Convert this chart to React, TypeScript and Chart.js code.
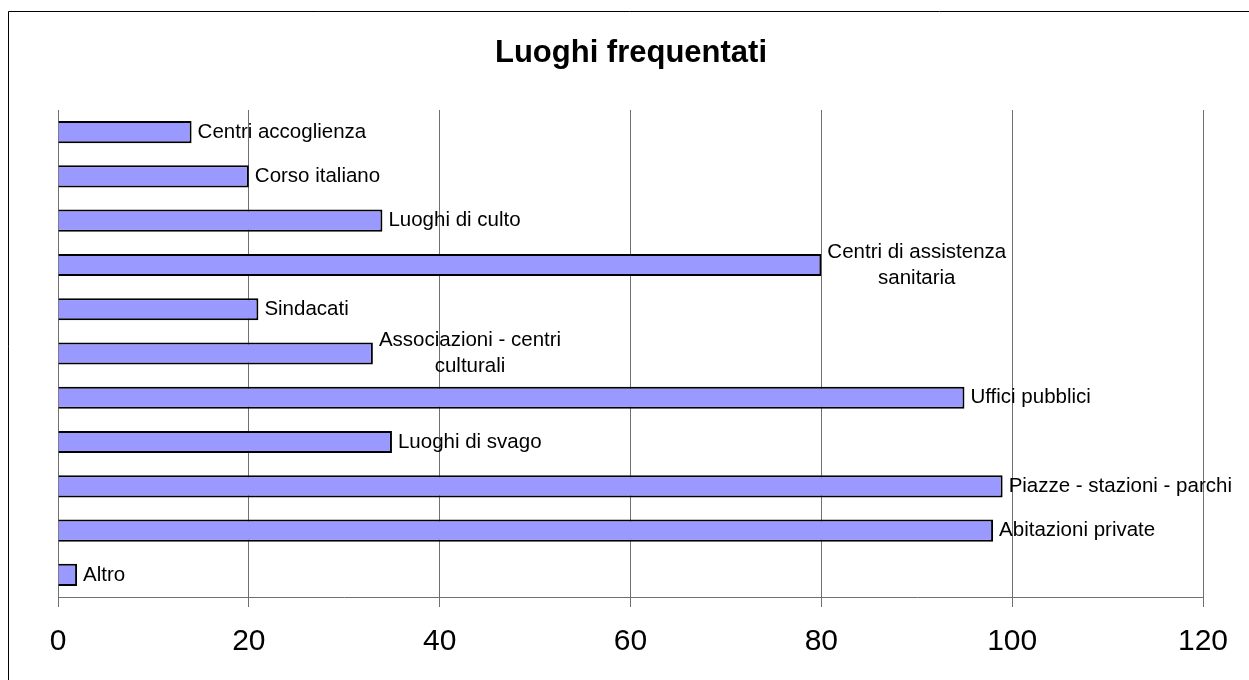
import React, { useEffect, useRef } from "react";
import { Chart, registerables } from "chart.js";

Chart.register(...registerables);

const TITLE = "Luoghi frequentati";
const categories: string[][] = [
  ["Centri accoglienza"],
  ["Corso italiano"],
  ["Luoghi di culto"],
  ["Centri di assistenza", "sanitaria"],
  ["Sindacati"],
  ["Associazioni - centri", "culturali"],
  ["Uffici pubblici"],
  ["Luoghi di svago"],
  ["Piazze - stazioni - parchi"],
  ["Abitazioni private"],
  ["Altro"],
];
const values: number[] = [14, 20, 34, 80, 21, 33, 95, 35, 99, 98, 2];
const xTicks: number[] = [0, 20, 40, 60, 80, 100, 120];

const FONT = "'Liberation Sans', Arial, sans-serif";

const framePlugin = {
  id: "frame",
  beforeDraw(chart: any) {
    const ctx = chart.ctx;
    ctx.save();
    ctx.fillStyle = "#ffffff";
    ctx.fillRect(0, 0, chart.width, chart.height);
    ctx.strokeStyle = "#000000";
    ctx.lineWidth = 1;
    ctx.beginPath();
    ctx.moveTo(8.5, chart.height + 5);
    ctx.lineTo(8.5, 11.5);
    ctx.lineTo(chart.width + 5, 11.5);
    ctx.stroke();
    ctx.fillStyle = "#000000";
    ctx.font = `bold 31px ${FONT}`;
    ctx.textAlign = "center";
    ctx.textBaseline = "middle";
    ctx.fillText(TITLE, 631, 53);
    ctx.restore();
  },
};

const labelPlugin = {
  id: "barLabels",
  afterDatasetsDraw(chart: any) {
    const ctx = chart.ctx;
    const meta = chart.getDatasetMeta(0);
    ctx.save();
    ctx.fillStyle = "#000000";
    ctx.font = `20.5px ${FONT}`;
    ctx.textBaseline = "middle";
    meta.data.forEach((bar: any, i: number) => {
      const lines = categories[i];
      const x0 = bar.x + 6;
      const lh = 26;
      if (lines.length === 1) {
        ctx.textAlign = "left";
        ctx.fillText(lines[0], x0, bar.y);
      } else {
        const widths = lines.map((l) => ctx.measureText(l).width);
        const maxW = Math.max(...widths);
        const cx = x0 + maxW / 2;
        ctx.textAlign = "center";
        const startY = bar.y - ((lines.length - 1) * lh) / 2;
        lines.forEach((l, j) => ctx.fillText(l, cx, startY + j * lh));
      }
    });
    ctx.restore();
  },
};

export default function App() {
  const ref = useRef<HTMLCanvasElement>(null);
  useEffect(() => {
    if (!ref.current) return;
    const chart = new Chart(ref.current, {
      type: "bar",
      data: {
        labels: categories.map((c) => c.join(" ")),
        datasets: [
          {
            data: values,
            backgroundColor: "#9999FF",
            borderColor: "#000000",
            borderWidth: 2,
            barPercentage: 0.5,
            categoryPercentage: 1,
          },
        ],
      },
      options: {
        indexAxis: "y",
        animation: false,
        responsive: false,
        maintainAspectRatio: false,
        layout: { padding: { left: 58, right: 46, top: 110, bottom: 3 } },
        plugins: {
          legend: { display: false },
          title: { display: false },
          tooltip: { enabled: false },
        },
        scales: {
          x: {
            min: 0,
            max: 120,
            afterBuildTicks: (axis: any) => {
              axis.ticks = xTicks.map((v) => ({ value: v }));
            },
            grid: {
              color: "#707070",
              lineWidth: 1,
              tickLength: 10,
              drawOnChartArea: true,
            },
            border: { display: true, color: "#707070", width: 1 },
            ticks: {
              color: "#000000",
              font: { family: FONT, size: 30 },
              padding: 17,
              maxRotation: 0,
            },
          },
          y: {
            display: false,
          },
        },
      },
      plugins: [framePlugin, labelPlugin],
    });
    return () => chart.destroy();
  }, []);
  return (
    <div style={{ position: "fixed", left: 0, top: 0, width: 1249, height: 680 }}>
      <canvas ref={ref} width={1249} height={680} style={{ display: "block" }} />
    </div>
  );
}
